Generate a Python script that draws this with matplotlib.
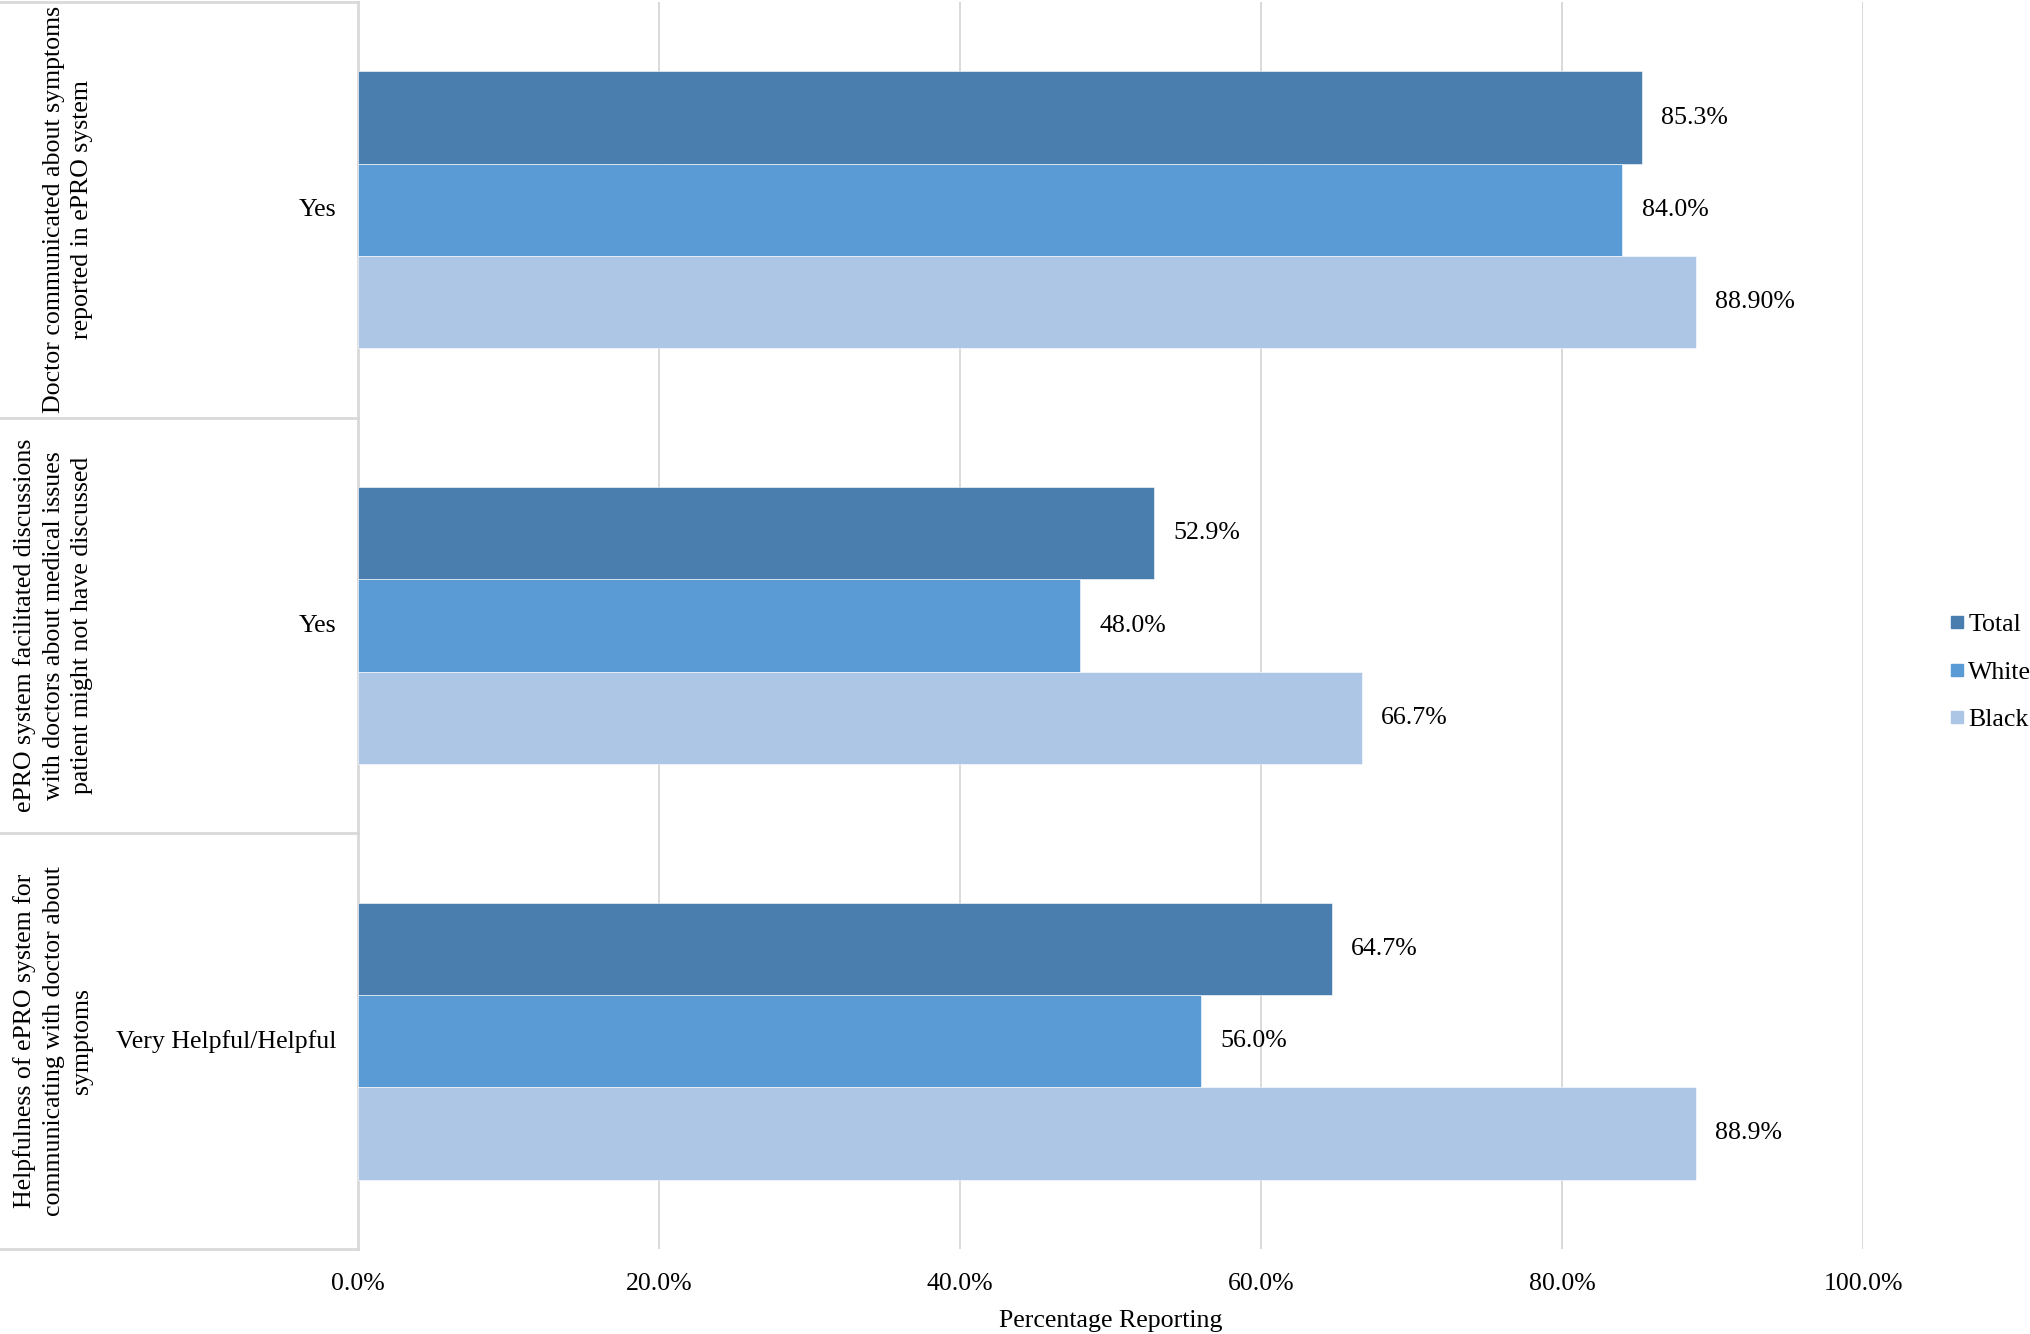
import matplotlib
matplotlib.use("Agg")
import matplotlib.pyplot as plt
from matplotlib.lines import Line2D
import numpy as np

plt.rcParams['font.family'] = ['Liberation Serif', 'DejaVu Serif']

questions = [
    "Doctor communicated about symptoms\nreported in ePRO system",
    "ePRO system facilitated discussions\nwith doctors about medical issues\npatient might not have discussed",
    "Helpfulness of ePRO system for\ncommunicating with doctor about\nsymptoms",
]
responses = ["Yes", "Yes", "Very Helpful/Helpful"]
series = ["Total", "White", "Black"]
total = [85.3, 52.9, 64.7]
white = [84.0, 48.0, 56.0]
black = [88.9, 66.7, 88.9]
total_labels = ["85.3%", "52.9%", "64.7%"]
white_labels = ["84.0%", "48.0%", "56.0%"]
black_labels = ["88.90%", "66.7%", "88.9%"]
xticks = [0, 20, 40, 60, 80, 100]
xtick_labels = ["0.0%", "20.0%", "40.0%", "60.0%", "80.0%", "100.0%"]
colors = ["#4A7EAE", "#5B9BD5", "#ADC6E6"]

FS = 18.6
W, H = 2031, 1334
fig = plt.figure(figsize=(W / 100, H / 100), dpi=100)
ax_left, ax_right = 358 / W, 1863 / W
ax_bottom, ax_top = (H - 1249) / H, (H - 2) / H
ax = fig.add_axes([ax_left, ax_bottom, ax_right - ax_left, ax_top - ax_bottom])

y = np.arange(len(questions))
h = 0.222
data = [total, white, black]
labels = [total_labels, white_labels, black_labels]
for k, (vals, labs, col, name) in enumerate(zip(data, labels, colors, series)):
    ypos = y + (k - 1) * h
    ax.barh(ypos, vals, height=h, color=col, edgecolor='white', linewidth=0.4, label=name, zorder=3)
    for yy, v, lab in zip(ypos, vals, labs):
        ax.annotate(lab, xy=(v, yy), xytext=(14, 0), textcoords='offset points',
                    va='center', ha='left', fontsize=FS)

ax.set_xlim(0, 100)
ax.set_ylim(len(questions) - 0.5, -0.5)
ax.set_xticks(xticks)
ax.set_xticklabels(xtick_labels, fontsize=FS)
ax.tick_params(axis='x', length=0, pad=17)
ax.set_yticks([])
ax.grid(axis='x', color='#D9D9D9', linewidth=1.4, zorder=0)
for s in ['top', 'right', 'bottom']:
    ax.spines[s].set_visible(False)
ax.spines['left'].set_color('#D9D9D9')
ax.spines['left'].set_linewidth(2.0)

ax.set_xlabel("Percentage Reporting", fontsize=FS)
ax.xaxis.set_label_coords(0.5, -0.049)

# Left category box
axw_px = 1863 - 358
x0 = -358 / axw_px
for b in np.arange(len(questions) + 1) - 0.5:
    ax.plot([x0, 0], [b, b], transform=ax.get_yaxis_transform(), color='#D9D9D9',
            linewidth=2.0, clip_on=False, zorder=1)

# Category texts
for i, (q, r) in enumerate(zip(questions, responses)):
    ax.text(-22 / axw_px, i, r, transform=ax.get_yaxis_transform(), ha='right', va='center', fontsize=FS)
    ax.text(x0 + 93 / axw_px, i, q, transform=ax.get_yaxis_transform(), ha='right', va='center',
            rotation=90, fontsize=FS, multialignment='center', linespacing=1.38)

handles = [Line2D([0], [0], marker='s', linestyle='none', markersize=8.5,
                  markerfacecolor=c, markeredgecolor=c) for c in colors]
fig.legend(handles, series, loc='center left', bbox_to_anchor=(1949 / W, 1 - 672 / H),
           frameon=False, fontsize=FS, handlelength=0.6, handletextpad=0.15,
           labelspacing=0.95, borderpad=0, borderaxespad=0)

fig.savefig("out.png", dpi=100)
